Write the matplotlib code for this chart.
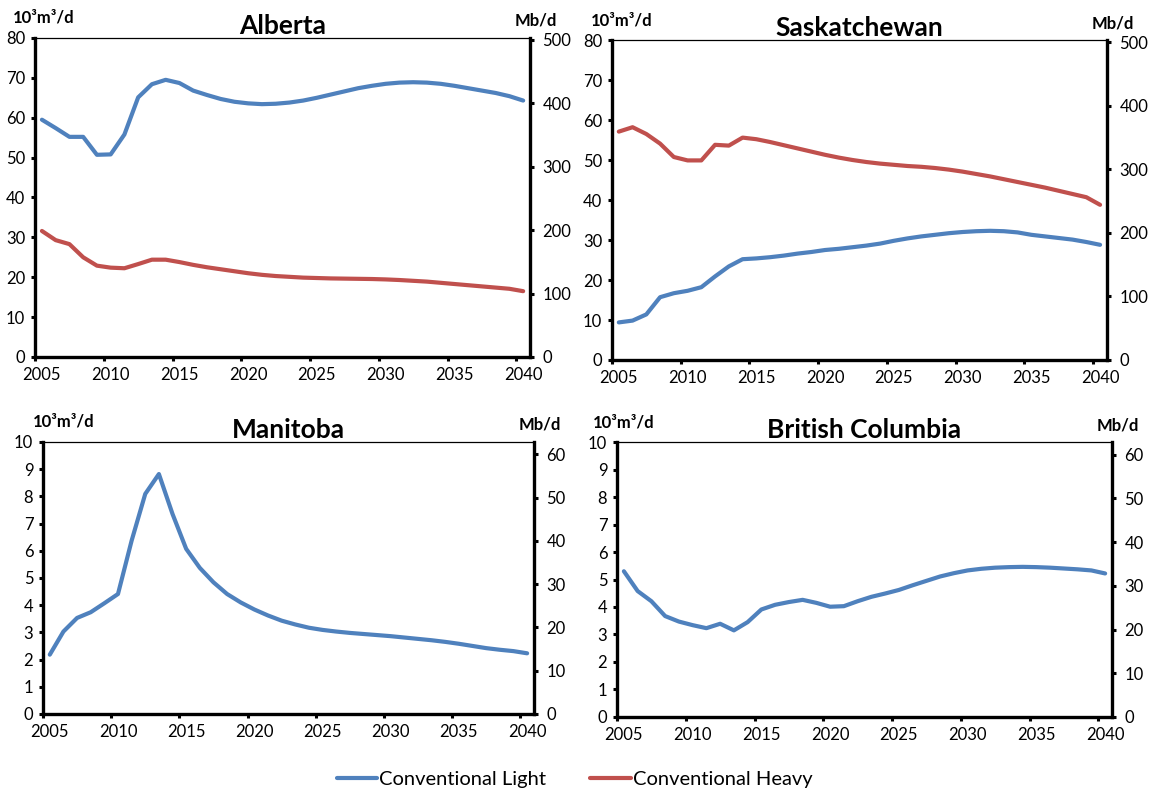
import numpy as np
import matplotlib
matplotlib.use("Agg")
import matplotlib.pyplot as plt

plt.rcParams['font.family'] = ['Lato', 'DejaVu Sans']

years = list(range(2005, 2041))

# 10^3 m3/d
alberta_light = [59.5, 57.4, 55.2, 55.2, 50.7, 50.8, 55.8, 65.1, 68.4, 69.5,
                 68.7, 66.8, 65.7, 64.7, 64.0, 63.6, 63.4, 63.5, 63.8, 64.3,
                 65.0, 65.8, 66.6, 67.4, 68.0, 68.5, 68.8, 68.9, 68.8, 68.5,
                 68.0, 67.4, 66.8, 66.2, 65.4, 64.3]
alberta_heavy = [31.6, 29.3, 28.3, 25.0, 22.9, 22.4, 22.25, 23.3, 24.4, 24.4,
                 23.8, 23.1, 22.5, 22.0, 21.5, 21.0, 20.6, 20.3, 20.1, 19.9,
                 19.8, 19.7, 19.65, 19.6, 19.55, 19.45, 19.3, 19.1, 18.9, 18.6,
                 18.3, 18.0, 17.7, 17.4, 17.1, 16.5]

sask_light = [9.4, 9.85, 11.4, 15.7, 16.7, 17.3, 18.2, 20.9, 23.4, 25.2,
              25.4, 25.7, 26.1, 26.6, 27.0, 27.5, 27.8, 28.2, 28.6, 29.1,
              29.8, 30.4, 30.9, 31.3, 31.7, 32.0, 32.2, 32.3, 32.2, 31.9,
              31.3, 30.9, 30.5, 30.1, 29.5, 28.8]
sask_heavy = [57.1, 58.2, 56.5, 54.1, 50.75, 49.9, 49.9, 53.8, 53.6, 55.6,
              55.2, 54.5, 53.7, 52.9, 52.1, 51.3, 50.6, 50.0, 49.5, 49.1,
              48.8, 48.5, 48.3, 48.0, 47.6, 47.1, 46.5, 45.9, 45.2, 44.5,
              43.8, 43.1, 42.3, 41.5, 40.7, 38.8]

manitoba_light = [2.18, 3.03, 3.53, 3.74, 4.07, 4.41, 6.37, 8.09, 8.82, 7.35,
                  6.07, 5.37, 4.84, 4.41, 4.10, 3.84, 3.62, 3.43, 3.29, 3.17,
                  3.09, 3.03, 2.98, 2.94, 2.90, 2.86, 2.81, 2.76, 2.71, 2.65,
                  2.58, 2.50, 2.42, 2.36, 2.31, 2.23]

bc_light = [5.30, 4.58, 4.21, 3.67, 3.47, 3.34, 3.23, 3.39, 3.15, 3.45,
            3.91, 4.08, 4.18, 4.26, 4.15, 4.01, 4.03, 4.21, 4.37, 4.49,
            4.62, 4.79, 4.95, 5.11, 5.23, 5.33, 5.39, 5.43, 5.45, 5.46,
            5.45, 5.43, 5.40, 5.37, 5.33, 5.22]

M3_TO_BBL = 6.2898

BLUE = '#4F81BD'
RED = '#C0504D'

# title, axes rect, left-axis max, left step, right step, series, unit label x offset (px)
panels = [
    ("Alberta", [0.0305, 0.5504, 0.4308, 0.4018], 80, 10, 100, alberta_light, alberta_heavy, -22),
    ("Saskatchewan", [0.5326, 0.5466, 0.4308, 0.4030], 80, 10, 100, sask_light, sask_heavy, -21),
    ("Manitoba", [0.0374, 0.1008, 0.4273, 0.3426], 10, 1, 10, manitoba_light, None, -10),
    ("British Columbia", [0.5370, 0.0970, 0.4308, 0.3463], 10, 1, 10, bc_light, None, -24),
]

fig = plt.figure(figsize=(11.49, 7.94), dpi=100)
px = 72 / 100  # points per pixel

x = np.arange(len(years))
for title, rect, ymax, ystep, rstep, light, heavy, uoff in panels:
    ax = fig.add_axes(rect)
    l1, = ax.plot(x, light, color=BLUE, lw=3, solid_capstyle='round', label='Conventional Light')
    if heavy is not None:
        l2, = ax.plot(x, heavy, color=RED, lw=3, solid_capstyle='round', label='Conventional Heavy')
    ax.set_xlim(-0.5, len(years) - 0.5)
    ax.set_ylim(0, ymax)
    ax.set_yticks(np.arange(0, ymax + ystep / 2, ystep))
    # category axis: ticks between categories, labels on categories
    ax.set_xticks(np.arange(-0.5, len(years) - 1, 5))
    ax.set_xticklabels([])
    ax.set_xticks(np.arange(0, len(years), 5), minor=True)
    ax.set_xticklabels([str(y) for y in years[::5]], minor=True)
    ax.tick_params(axis='x', which='major', direction='out', length=3, width=2.2)
    ax.tick_params(axis='x', which='minor', length=0, labelsize=12, pad=7)
    ax.tick_params(axis='y', direction='out', length=3, width=2.2, labelsize=12, pad=4)
    for s in ['left', 'bottom']:
        ax.spines[s].set_linewidth(2.4)
    ax.spines['top'].set_linewidth(0.9)
    ax.spines['right'].set_visible(False)

    ax2 = ax.twinx()
    ax2.set_ylim(0, ymax * M3_TO_BBL)
    ax2.set_yticks(np.arange(0, ymax * M3_TO_BBL, rstep))
    ax2.tick_params(axis='y', direction='out', length=3, width=2.2, labelsize=12, pad=6)
    for s in ['left', 'bottom', 'top']:
        ax2.spines[s].set_visible(False)
    ax2.spines['right'].set_linewidth(2.4)

    ax.set_title(title, fontsize=19, fontweight='bold', pad=3)
    ax.annotate('10³m³/d', xy=(0, 1), xycoords='axes fraction',
                xytext=(uoff * px, 15 * px), textcoords='offset points',
                ha='left', va='baseline', fontsize=12, fontweight='bold')
    ax.annotate('Mb/d', xy=(1, 1), xycoords='axes fraction',
                xytext=(6 * px, 12 * px), textcoords='offset points',
                ha='center', va='baseline', fontsize=12, fontweight='bold')
    if title == "Alberta":
        handles = [l1, l2]

fig.legend(handles, ['Conventional Light', 'Conventional Heavy'], loc='center',
           bbox_to_anchor=(0.5, 0.018), ncol=2, frameon=False, fontsize=14.5,
           handlelength=2.0, handletextpad=0.1, columnspacing=2.2)

fig.savefig('out.png', dpi=100)
